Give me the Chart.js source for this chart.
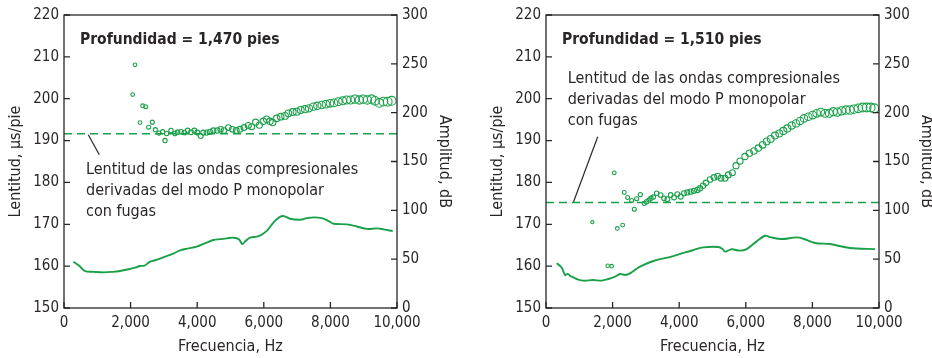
<!DOCTYPE html>
<html>
<head>
<meta charset="utf-8">
<script src="https://cdn.jsdelivr.net/npm/chart.js@4.4.1/dist/chart.umd.min.js"></script>
<style>
  html, body { margin: 0; padding: 0; background: #fff; overflow: hidden; }
  body { width: 932px; height: 358px; position: relative; }
  .panel { position: absolute; top: 0; width: 466px; height: 358px; }
  #panelA { left: 0; }
  #panelB { left: 482px; }
</style>
</head>
<body>
<div class="panel" id="panelA"><canvas id="chartA" width="466" height="358"></canvas></div>
<div class="panel" id="panelB"><canvas id="chartB" width="466" height="358"></canvas></div>
<script>
// depth 1,470 ft: slowness vs frequency
const freqA = [2062, 2132, 2282, 2362, 2452, 2542, 2652, 2743, 2853, 2963, 3033, 3083, 3213, 3333, 3413, 3514,
  3614, 3714, 3814, 3914, 4004, 4104, 4184, 4284, 4384, 4484, 4604, 4705, 4805, 4935, 5055, 5175, 5285, 5405,
  5535, 5636, 5756, 5866, 5986, 6086, 6186, 6266, 6386, 6506, 6637, 6737, 6867, 6987, 7107, 7237, 7357, 7487,
  7607, 7738, 7868, 7988, 8108, 8238, 8368, 8488, 8609, 8739, 8869, 8989, 9109, 9240, 9339, 9469, 9590, 9720, 9840];
const slowA = [201.0, 208.1, 194.3, 198.3, 198.1, 193.2, 194.4, 192.6, 191.8, 192.1, 190.0, 191.7, 192.4, 191.7, 192.0, 192.1,
  191.9, 192.4, 192.0, 192.4, 191.9, 191.1, 191.9, 191.9, 192.1, 192.4, 192.4, 192.7, 192.4, 193.1, 192.7, 192.4, 192.7, 193.1,
  193.6, 193.3, 194.4, 193.7, 194.6, 195.1, 194.6, 194.3, 195.3, 195.7, 195.9, 196.5, 196.8, 196.9, 197.3, 197.5, 197.7, 198.1,
  198.3, 198.5, 198.7, 198.9, 199.0, 199.3, 199.5, 199.7, 199.7, 199.9, 199.7, 199.9, 199.7, 199.9, 199.5, 199.0, 199.3, 199.3, 199.5];
// depth 1,470 ft: amplitude vs frequency
const ampFreqA = [280, 450, 631, 900, 1181, 1450, 1682, 1982, 2150, 2282, 2420, 2583, 2800, 3083, 3300, 3483, 3700, 3984,
  4250, 4484, 4700, 4885, 5100, 5250, 5355, 5450, 5587, 5850, 6088, 6300, 6500, 6610, 6790, 7091, 7300, 7500, 7743,
  7950, 8094, 8495, 8796, 9097, 9398, 9600, 9870];
const ampA = [47.4, 43.5, 37.8, 37.0, 36.5, 37.0, 37.9, 39.9, 41.5, 43.0, 43.5, 47.4, 49.5, 53.2, 56.0, 59.0, 60.8, 62.8,
  66.5, 69.6, 70.5, 71.3, 72.0, 70.5, 65.5, 68.5, 72.0, 73.5, 79.0, 88.0, 93.5, 94.0, 91.4, 90.4, 92.0, 92.8, 92.0,
  89.0, 86.3, 85.6, 83.5, 81.0, 81.5, 80.5, 78.8];
const leakyA = 191.6;

// depth 1,510 ft: slowness vs frequency
const freqB = [1391, 1852, 1972, 2051, 2142, 2302, 2351, 2452, 2573, 2652, 2723, 2832, 2952, 3023, 3093, 3153, 3223, 3323,
  3444, 3544, 3644, 3744, 3844, 3944, 4044, 4144, 4244, 4344, 4444, 4544, 4625, 4715, 4805, 4925, 5045, 5155, 5255,
  5375, 5475, 5596, 5706, 5826, 5976, 6106, 6246, 6376, 6507, 6627, 6747, 6877, 7006, 7127, 7247, 7378, 7508, 7628,
  7748, 7878, 8009, 8129, 8249, 8378, 8508, 8628, 8748, 8879, 9009, 9129, 9249, 9379, 9508, 9628, 9748, 9858];
const slowB = [170.5, 160.1, 160.0, 182.3, 169.0, 169.8, 177.6, 176.4, 175.7, 173.6, 176.1, 177.1, 175.0, 175.4, 175.8, 176.2, 176.5, 177.4,
  177.0, 176.2, 176.0, 177.0, 176.4, 177.2, 176.6, 177.4, 177.6, 177.8, 178.0, 178.2, 178.6, 179.2, 179.9, 180.7, 181.2, 181.5, 181.0,
  181.0, 181.8, 182.3, 184.0, 185.1, 186.2, 187.0, 187.5, 188.2, 189.0, 189.8, 190.4, 191.2, 191.7, 192.3, 192.9, 193.6, 194.1, 194.7,
  195.3, 195.7, 196.1, 196.5, 196.8, 196.5, 196.5, 196.9, 196.8, 197.1, 197.3, 197.3, 197.5, 197.7, 197.9, 197.9, 197.9, 197.7];
// depth 1,510 ft: amplitude vs frequency
const ampFreqB = [320, 470, 571, 660, 721, 820, 922, 1121, 1421, 1672, 1872, 2072, 2222, 2372, 2523, 2823, 3223, 3823,
  4424, 4725, 5175, 5300, 5375, 5576, 5826, 6026, 6326, 6577, 6727, 7077, 7528, 7728, 8078, 8528, 9129, 9880];
const ampB = [45.8, 41.5, 33.8, 35.0, 33.1, 31.4, 29.7, 28.0, 28.7, 28.0, 29.7, 32.1, 34.8, 33.8, 35.5, 42.3, 48.1, 53.2,
  59.4, 62.1, 62.5, 60.5, 57.7, 60.1, 58.7, 60.3, 68.2, 74.0, 72.6, 70.6, 72.3, 70.9, 66.5, 65.5, 61.4, 60.3];
const leakyB = 175.2;

const xTicks = [0, 2000, 4000, 6000, 8000, 10000];
const noteLines = ['Lentitud de las ondas compresionales', 'derivadas del modo P monopolar', 'con fugas'];

const GREEN = '#1ba04a';
const INK = '#2a2627';
const FONT = "'Liberation Sans Narrow', 'DejaVu Sans Condensed', 'Arial Narrow', sans-serif";

Chart.defaults.font.family = FONT;
Chart.defaults.color = INK;

const zip = (xs, ys) => xs.map((x, i) => ({ x: x, y: ys[i] }));

// box around the plot, inward ticks, heading and note text
const framePlugin = {
  id: 'frame',
  afterDraw(chart, args, o) {
    const { ctx, chartArea: a, scales } = chart;
    ctx.save();
    ctx.strokeStyle = INK;
    ctx.lineWidth = 1.3;
    ctx.strokeRect(a.left, a.top, a.right - a.left, a.bottom - a.top);
    ctx.beginPath();
    scales.x.ticks.forEach(t => {
      const p = scales.x.getPixelForValue(t.value);
      ctx.moveTo(p, a.bottom); ctx.lineTo(p, a.bottom - 6);
    });
    scales.y.ticks.forEach(t => {
      const p = scales.y.getPixelForValue(t.value);
      ctx.moveTo(a.left, p); ctx.lineTo(a.left + 6, p);
    });
    scales.y2.ticks.forEach(t => {
      const p = scales.y2.getPixelForValue(t.value);
      ctx.moveTo(a.right, p); ctx.lineTo(a.right - 6, p);
    });
    ctx.stroke();

    ctx.fillStyle = INK;
    ctx.textBaseline = 'middle';
    ctx.textAlign = 'left';
    ctx.font = 'bold 15.5px ' + FONT;
    ctx.fillText(o.heading, a.left + 16, 40);

    ctx.font = '16px ' + FONT;
    const nx = scales.x.getPixelForValue(o.noteAt[0]);
    const ny = scales.y.getPixelForValue(o.noteAt[1]);
    noteLines.forEach((s, i) => ctx.fillText(s, nx, ny + i * 21));
    ctx.restore();
  }
};

function makePanel(id, p) {
  return new Chart(document.getElementById(id), {
    type: 'scatter',
    data: {
      datasets: [
        {
          data: zip(p.freq, p.slow),
          yAxisID: 'y',
          showLine: false,
          pointStyle: 'circle',
          backgroundColor: 'rgba(0,0,0,0)',
          borderColor: GREEN,
          pointBorderWidth: 1.1,
          pointRadius: c => {
            const f = c.raw ? c.raw.x : 2000;
            return Math.max(1.6, 1.8 + (f - 2000) / 8000 * 2.7);
          }
        },
        {
          data: [{ x: 0, y: p.leaky }, { x: 10000, y: p.leaky }],
          yAxisID: 'y',
          showLine: true,
          borderColor: GREEN,
          borderWidth: 1.5,
          borderDash: [8, 5],
          pointRadius: 0
        },
        {
          data: zip(p.ampFreq, p.amp),
          yAxisID: 'y2',
          showLine: true,
          borderColor: GREEN,
          borderWidth: 1.9,
          tension: 0.35,
          pointRadius: 0
        },
        {
          data: p.leader,
          yAxisID: 'y',
          showLine: true,
          borderColor: INK,
          borderWidth: 1.2,
          pointRadius: 0
        }
      ]
    },
    options: {
      responsive: false,
      animation: false,
      devicePixelRatio: 1,
      layout: { padding: { top: 15, left: 0, right: 0, bottom: 0 } },
      plugins: {
        legend: { display: false },
        tooltip: { enabled: false },
        frame: { heading: p.heading, noteAt: p.noteAt }
      },
      scales: {
        x: {
          type: 'linear',
          min: 0, max: 10000,
          afterBuildTicks: s => { s.ticks = xTicks.map(v => ({ value: v })); },
          afterFit: s => { s.height = 50; },
          grid: { display: false, drawTicks: false },
          border: { display: false },
          ticks: {
            padding: 6,
            font: { size: 15 },
            color: INK,
            callback: v => v.toLocaleString('en-US')
          },
          title: { display: true, text: 'Frecuencia, Hz', font: { size: 16 }, color: INK, padding: { top: 0, bottom: 2 } }
        },
        y: {
          position: 'left',
          min: 150, max: 220,
          afterFit: s => { s.width = 64; },
          grid: { display: false, drawTicks: false },
          border: { display: false },
          ticks: { stepSize: 10, padding: 5, font: { size: 15 }, color: INK },
          title: { display: true, text: 'Lentitud, µs/pie', font: { size: 16 }, color: INK, padding: { top: 6, bottom: 0 } }
        },
        y2: {
          position: 'right',
          min: 0, max: 300,
          afterFit: s => { s.width = 69; },
          grid: { display: false, drawTicks: false },
          border: { display: false },
          ticks: { stepSize: 50, padding: 5, font: { size: 15 }, color: INK },
          title: { display: true, text: 'Amplitud, dB', font: { size: 16 }, color: INK, padding: { top: 12, bottom: 0 } }
        }
      }
    },
    plugins: [framePlugin]
  });
}

makePanel('chartA', {
  freq: freqA, slow: slowA, ampFreq: ampFreqA, amp: ampA, leaky: leakyA,
  leader: [{ x: 730, y: 191.4 }, { x: 1060, y: 186.6 }],
  heading: 'Profundidad = 1,470 pies',
  noteAt: [661, 183.0]
});

makePanel('chartB', {
  freq: freqB, slow: slowB, ampFreq: ampFreqB, amp: ampB, leaky: leakyB,
  leader: [{ x: 1553, y: 190.9 }, { x: 820, y: 175.2 }],
  heading: 'Profundidad = 1,510 pies',
  noteAt: [652, 204.7]
});
</script>
</body>
</html>
